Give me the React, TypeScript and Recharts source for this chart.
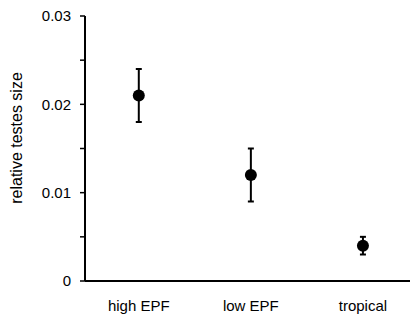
import React from "react";
import { ScatterChart, Scatter, XAxis, YAxis, ErrorBar } from "recharts";

const categories = ["high EPF", "low EPF", "tropical"];
const means = [0.021, 0.012, 0.004];
const errors = [0.003, 0.003, 0.001];
const yTicks = [0, 0.005, 0.01, 0.015, 0.02, 0.025, 0.03];
const yLabels = ["0", "", "0.01", "", "0.02", "", "0.03"];

const points = categories.map((name, i) => ({
  x: i + 1,
  y: means[i],
  err: errors[i],
  name,
}));

const font = "'Liberation Sans', Arial, sans-serif";

// rotated axis title, placed left of the tick labels
const YTitle = () => (
  <text
    x={16}
    y={138}
    transform="rotate(-90, 16, 138)"
    textAnchor="middle"
    dominantBaseline="central"
    fill="#000"
    fontSize={16}
    fontFamily={font}
  >
    relative testes size
  </text>
);

const App: React.FC = () => {
  return (
    <div style={{ position: "absolute", left: 0, top: 0, background: "#fff" }}>
      <ScatterChart
        width={410}
        height={325}
        margin={{ top: 16, right: 0, bottom: 0, left: 0 }}
      >
        <XAxis
          type="number"
          dataKey="x"
          domain={[0.52, 3.42]}
          ticks={[1, 2, 3]}
          tickFormatter={(v: number) => categories[v - 1]}
          tickLine={false}
          axisLine={{ stroke: "#000", strokeWidth: 2 }}
          height={44}
          tickMargin={13}
          tick={{ fill: "#000", fontSize: 15, fontFamily: font }}
        />
        <YAxis
          type="number"
          dataKey="y"
          domain={[0, 0.03]}
          ticks={yTicks}
          tickFormatter={(v: number) => yLabels[yTicks.indexOf(v)] ?? ""}
          interval={0}
          width={85}
          tickSize={5}
          tickMargin={9}
          axisLine={{ stroke: "#000", strokeWidth: 2 }}
          tickLine={{ stroke: "#000", strokeWidth: 1.5 }}
          tick={{ fill: "#000", fontSize: 15, fontFamily: font }}
          label={<YTitle />}
        />
        <Scatter data={points} fill="#000" isAnimationActive={false} shape={(p: any) => (
          <circle cx={p.cx} cy={p.cy} r={6} fill="#000" />
        )}>
          <ErrorBar dataKey="err" direction="y" width={3} stroke="#000" strokeWidth={2} />
        </Scatter>
      </ScatterChart>
    </div>
  );
};

export default App;
